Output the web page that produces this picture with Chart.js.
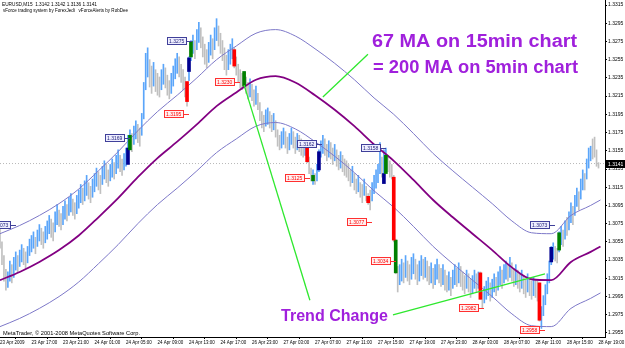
<!DOCTYPE html>
<html>
<head>
<meta charset="utf-8">
<script src="https://cdn.jsdelivr.net/npm/chart.js@4.4.1/dist/chart.umd.min.js"></script>
<style>
  html, body { margin: 0; padding: 0; background: #fff; }
  #wrap { width: 625px; height: 348px; }
</style>
</head>
<body>
<div id="wrap"><canvas id="chart" width="625" height="348"></canvas></div>
<script>
// EURUSD M15 bars, one per 15 minutes
const barHigh = [
  1.3070,1.3055,1.3040,1.3025,1.3022,1.3034,1.3030,1.3038,
  1.3044,1.3040,1.3046,1.3052,1.3048,1.3044,1.3050,1.3058,
  1.3062,1.3066,1.3060,1.3068,1.3074,1.3070,1.3066,1.3072,
  1.3078,1.3084,1.3080,1.3076,1.3088,1.3096,1.3090,1.3086,
  1.3094,1.3100,1.3096,1.3104,1.3108,1.3102,1.3098,1.3106,
  1.3112,1.3118,1.3114,1.3122,1.3128,1.3120,1.3116,1.3124,
  1.3130,1.3136,1.3132,1.3128,1.3138,1.3144,1.3140,1.3134,
  1.3140,1.3146,1.3142,1.3150,1.3156,1.3150,1.3146,1.3152,
  1.3158,1.3172,1.3178,1.3174,1.3182,1.3188,1.3184,1.3180,
  1.3196,1.3230,1.3262,1.3268,1.3255,1.3248,1.3252,1.3244,
  1.3240,1.3236,1.3244,1.3250,1.3246,1.3238,1.3232,1.3240,
  1.3248,1.3256,1.3262,1.3258,1.3250,1.3244,1.3236,1.3230,
  1.3258,1.3276,1.3282,1.3276,1.3288,1.3296,1.3290,1.3280,
  1.3272,1.3266,1.3274,1.3282,1.3278,1.3290,1.3300,1.3292,
  1.3284,1.3276,1.3268,1.3260,1.3266,1.3272,1.3278,1.3268,
  1.3258,1.3250,1.3244,1.3240,1.3242,1.3236,1.3230,1.3234,
  1.3228,1.3222,1.3226,1.3218,1.3208,1.3198,1.3194,1.3200,
  1.3202,1.3198,1.3194,1.3196,1.3188,1.3178,1.3172,1.3176,
  1.3180,1.3176,1.3170,1.3174,1.3180,1.3176,1.3170,1.3174,
  1.3172,1.3168,1.3164,1.3166,1.3162,1.3148,1.3136,1.3134,
  1.3130,1.3140,1.3156,1.3166,1.3172,1.3168,1.3162,1.3166,
  1.3164,1.3158,1.3162,1.3156,1.3150,1.3154,1.3150,1.3146,
  1.3144,1.3140,1.3134,1.3138,1.3130,1.3124,1.3128,1.3120,
  1.3118,1.3124,1.3116,1.3108,1.3112,1.3120,1.3128,1.3134,
  1.3140,1.3164,1.3148,1.3156,1.3158,1.3150,1.3144,1.3140,
  1.3128,1.3058,1.3028,1.3030,1.3036,1.3032,1.3040,1.3034,
  1.3030,1.3038,1.3042,1.3036,1.3030,1.3034,1.3040,1.3036,
  1.3038,1.3034,1.3028,1.3032,1.3026,1.3030,1.3036,1.3030,
  1.3026,1.3030,1.3024,1.3018,1.3022,1.3016,1.3024,1.3030,
  1.3026,1.3032,1.3028,1.3022,1.3018,1.3024,1.3020,1.3014,
  1.3018,1.3024,1.3020,1.3022,1.3022,1.3000,1.3006,1.3012,
  1.3016,1.3010,1.3014,1.3020,1.3016,1.3022,1.3028,1.3024,
  1.3030,1.3034,1.3030,1.3038,1.3032,1.3026,1.3030,1.3024,
  1.3020,1.3024,1.3018,1.3014,1.3020,1.3016,1.3012,1.3016,
  1.3014,1.3012,1.3010,1.2984,1.2996,1.3008,1.3020,1.3034,
  1.3050,1.3054,1.3050,1.3048,1.3066,1.3072,1.3068,1.3078,
  1.3082,1.3088,1.3098,1.3094,1.3106,1.3114,1.3110,1.3124,
  1.3134,1.3130,1.3146,1.3158,1.3160,1.3168,1.3170,1.3156,1.3142
];
const barLow = [
  1.3048,1.3030,1.3012,1.3002,1.3005,1.3012,1.3010,1.3016,
  1.3024,1.3022,1.3028,1.3033,1.3030,1.3026,1.3032,1.3040,
  1.3044,1.3048,1.3042,1.3050,1.3056,1.3052,1.3048,1.3054,
  1.3058,1.3064,1.3060,1.3056,1.3066,1.3074,1.3072,1.3068,
  1.3074,1.3080,1.3078,1.3084,1.3088,1.3084,1.3080,1.3086,
  1.3092,1.3098,1.3096,1.3100,1.3106,1.3102,1.3098,1.3104,
  1.3110,1.3116,1.3112,1.3108,1.3118,1.3124,1.3120,1.3116,
  1.3122,1.3126,1.3124,1.3130,1.3136,1.3132,1.3128,1.3134,
  1.3138,1.3142,1.3158,1.3154,1.3162,1.3168,1.3164,1.3160,
  1.3172,1.3190,1.3222,1.3236,1.3225,1.3218,1.3226,1.3220,
  1.3216,1.3214,1.3222,1.3228,1.3224,1.3216,1.3212,1.3218,
  1.3226,1.3234,1.3240,1.3236,1.3230,1.3222,1.3214,1.3204,
  1.3232,1.3254,1.3262,1.3256,1.3266,1.3274,1.3268,1.3258,
  1.3250,1.3246,1.3252,1.3260,1.3256,1.3266,1.3276,1.3270,
  1.3262,1.3254,1.3244,1.3238,1.3244,1.3250,1.3256,1.3246,
  1.3238,1.3230,1.3224,1.3222,1.3224,1.3218,1.3212,1.3214,
  1.3210,1.3204,1.3206,1.3200,1.3188,1.3180,1.3176,1.3182,
  1.3184,1.3180,1.3176,1.3178,1.3170,1.3160,1.3156,1.3158,
  1.3162,1.3158,1.3152,1.3156,1.3162,1.3158,1.3152,1.3156,
  1.3154,1.3150,1.3148,1.3150,1.3142,1.3130,1.3122,1.3118,
  1.3118,1.3122,1.3132,1.3148,1.3152,1.3150,1.3144,1.3148,
  1.3146,1.3140,1.3144,1.3138,1.3134,1.3136,1.3132,1.3128,
  1.3126,1.3122,1.3116,1.3120,1.3112,1.3108,1.3110,1.3104,
  1.3098,1.3106,1.3100,1.3096,1.3090,1.3100,1.3108,1.3114,
  1.3120,1.3130,1.3126,1.3120,1.3138,1.3132,1.3126,1.3124,
  1.3055,1.3020,1.3000,1.3008,1.3012,1.3010,1.3016,1.3012,
  1.3008,1.3014,1.3020,1.3014,1.3008,1.3012,1.3018,1.3014,
  1.3016,1.3012,1.3008,1.3010,1.3004,1.3008,1.3014,1.3010,
  1.3006,1.3008,1.3002,1.3000,1.3002,1.2996,1.3004,1.3008,
  1.3006,1.3010,1.3006,1.3002,1.2998,1.3004,1.3000,1.2994,
  1.2998,1.3004,1.3000,1.3004,1.2992,1.2982,1.2988,1.2992,
  1.2996,1.2990,1.2994,1.3000,1.2996,1.3002,1.3008,1.3004,
  1.3010,1.3014,1.3012,1.3016,1.3012,1.3006,1.3008,1.3004,
  1.3000,1.3004,1.2998,1.2994,1.3000,1.2996,1.2992,1.2996,
  1.2994,1.2990,1.2968,1.2960,1.2974,1.2986,1.2998,1.3010,
  1.3030,1.3036,1.3034,1.3032,1.3044,1.3052,1.3050,1.3058,
  1.3062,1.3068,1.3076,1.3074,1.3084,1.3094,1.3090,1.3102,
  1.3112,1.3112,1.3124,1.3136,1.3144,1.3146,1.3148,1.3138,1.3136
];
// U = bull bar, D = bear bar
const barDir =
  'DDDDUUDU' + 'UDUUDDUU' + 'UUDUUDDU' + 'UUDDUUDD' + 'UUDUUDDU' + 'UUDUUDDU' +
  'UUDDUUDD' + 'UUDUUDDU' + 'UUUDUUDD' + 'UUUUDDUD' + 'DDUUDDDU' + 'UUUDDDDD' +
  'UUUDUUDD' + 'DDUUDUUD' + 'DDDDUUUD' + 'DDDDUDDU' + 'DDUDDDDU' + 'UDDUDDDU' +
  'UDDUUDDU' + 'DDDUDDDU' + 'DUUUUDDU' + 'DDUDDUDD' + 'DDDUDDUD' + 'DUDDDUUU' +
  'UUDUUDDD' + 'DDDUUDUD' + 'DUUDDUUD' + 'UDDUDUUD' + 'DUDDUDUU' + 'DUDDDUDD' +
  'UUDUDDUU' + 'UDUUDUUD' + 'UUDUDDUD' + 'DUDDUDDU' + 'DDDUUUUU' + 'UUDDUUDU' +
  'DUUDUUDU' + 'UDUUUDDDD';

// 67 period MA and its envelope, sampled every 10 bars
const maIdx = [0,10,20,30,40,50,60,70,80,90,100,110,120,130,140,150,160,170,180,190,200,210,220,230,240,250,260,270,280,290,300,305];
const maVals = [1.3013,1.3022,1.3033,1.3046,1.3062,1.3082,1.3103,1.3126,1.3147,1.3165,1.3184,1.3204,1.3219,1.3233,1.3237,1.3230,
  1.3216,1.3200,1.3182,1.3162,1.3144,1.3123,1.3101,1.3082,1.3064,1.3046,1.3027,1.3014,1.3013,1.3033,1.3044,1.3050];
const envUpper = [1.3064,1.3073,1.3084,1.3097,1.3113,1.3133,1.3154,1.3177,1.3198,1.3216,1.3235,1.3255,1.3270,1.3284,1.3288,1.3281,
  1.3267,1.3251,1.3233,1.3213,1.3195,1.3174,1.3152,1.3133,1.3115,1.3097,1.3078,1.3065,1.3064,1.3084,1.3095,1.3101];
const envLower = [1.2962,1.2971,1.2982,1.2995,1.3011,1.3031,1.3052,1.3075,1.3096,1.3114,1.3133,1.3153,1.3168,1.3182,1.3186,1.3179,
  1.3165,1.3149,1.3131,1.3111,1.3093,1.3072,1.3050,1.3031,1.3013,1.2995,1.2976,1.2963,1.2962,1.2982,1.2993,1.2999];

// vForce signal bars: r = red, g = green, b = navy
const sigIdx  = [65,66,95,96,97,119,124,156,159,162,187,195,196,200,201,244,274,280,284];
const sigLow  = [1.3140,1.3156,1.3209,1.3242,1.3258,1.3248,1.3226,1.3143,1.3122,1.3134,1.3098,1.3119,1.3130,1.3057,1.3021,1.2992,1.2969,1.3033,1.3046];
const sigHigh = [1.3158,1.3172,1.3231,1.3257,1.3275,1.3266,1.3242,1.3161,1.3128,1.3154,1.3105,1.3130,1.3150,1.3126,1.3057,1.3021,1.3010,1.3049,1.3065];
const sigKind = ['b','g','r','b','g','r','g','r','g','b','r','b','g','r','g','r','r','b','g'];

// price tags: text, bar the leader points at, price, kind
const tagText  = ['1.3073','1.3169','1.3195','1.3275','1.3230','1.3162','1.3125','1.3158','1.3077','1.3034','1.2982','1.2958','1.3073'];
const tagIdx   = [8,66,96,97.5,122,163.5,157.5,196,189,201,246,277,282];
const tagPrice = [1.3073,1.3169,1.3195,1.3275,1.3230,1.3162,1.3125,1.3158,1.3077,1.3034,1.2982,1.2958,1.3073];
const tagKind  = ['b','b','r','b','r','b','r','b','r','r','r','r','b'];

// hand drawn green lines (bar index, price)
const lineToTrend = [{ x: 124, y: 1.3227 }, { x: 157.4, y: 1.2991 }];
const lineToNote = [{ x: 186.9, y: 1.3261 }, { x: 164, y: 1.3214 }];
const lineCross = [{ x: 199.6, y: 1.2975 }, { x: 276.8, y: 1.3020 }];

const bidPrice = 1.3141;
const yTicks = [1.2955,1.2975,1.2995,1.3015,1.3035,1.3055,1.3075,1.3095,1.3115,1.3135,1.3155,1.3175,1.3195,1.3215,1.3235,1.3255,1.3275,1.3295,1.3315];
const xTickIdx = [0,16,32,48,64,80,96,112,128,144,160,176,192,208,224,240,256,272,288,304];
const xTickLabels = ['23 Apr 2009','23 Apr 17:00','23 Apr 21:00','24 Apr 01:00','24 Apr 05:00','24 Apr 09:00','24 Apr 13:00',
  '24 Apr 17:00','26 Apr 23:00','27 Apr 03:00','27 Apr 07:00','27 Apr 11:00','27 Apr 15:00','27 Apr 19:00','27 Apr 23:00',
  '28 Apr 03:00','28 Apr 07:00','28 Apr 11:00','28 Apr 15:00','28 Apr 19:00'];

const FONT = '"Liberation Sans", Arial, sans-serif';
const sigColors = { r: '#ff0000', g: '#008000', b: '#000090' };
const tagStyle = {
  r: { fill: '#fff0f0', stroke: '#ff3030', text: '#ff0000' },
  b: { fill: '#eeeeff', stroke: '#40409a', text: '#20207a' }
};

const upBars = [], downBars = [];
barHigh.forEach((h, i) => {
  const p = { x: i, y: [barLow[i], h] };
  (barDir[i] === 'U' ? upBars : downBars).push(p);
});

function sigData(kind) {
  return sigIdx.map((x, i) => ({ x, y: [sigLow[i], sigHigh[i]], k: sigKind[i] }))
    .filter(p => p.k === kind);
}

function curve(vals) {
  return maIdx.map((x, i) => ({ x, y: vals[i] }));
}

// squeeze or stretch a text line so it covers the same width as in the picture
function fitText(ctx, text, x, y, width) {
  const w = ctx.measureText(text).width;
  ctx.save();
  ctx.translate(x, y);
  ctx.scale(width / w, 1);
  ctx.fillText(text, 0, 0);
  ctx.restore();
}

const barStyle = { type: 'bar', barThickness: 1, grouped: false, borderWidth: 0 };
const sigStyle = { type: 'bar', barThickness: 3, grouped: false, borderWidth: 0, order: 2 };
const greenLine = { type: 'line', borderColor: '#2ee82e', borderWidth: 1.3, pointRadius: 0, order: 1 };

const overlay = {
  id: 'overlay',
  afterDatasetsDraw(chart) {
    const { ctx } = chart;
    const x = chart.scales.x, y = chart.scales.y;
    ctx.save();
    ctx.font = '5px ' + FONT;
    ctx.textBaseline = 'middle';
    ctx.lineWidth = 1;
    tagText.forEach((t, i) => {
      const st = tagStyle[tagKind[i]];
      const px = Math.round(x.getPixelForValue(tagIdx[i]));
      const py = Math.round(y.getPixelForValue(tagPrice[i]));
      const w = Math.ceil(ctx.measureText(t).width) + 4;
      const h = 8;
      const bx = px - 5 - w;
      ctx.fillStyle = st.fill;
      ctx.fillRect(bx, py - h / 2, w, h);
      ctx.strokeStyle = st.stroke;
      ctx.strokeRect(bx + 0.5, py - h / 2 + 0.5, w - 1, h - 1);
      ctx.beginPath();
      ctx.moveTo(bx + w, py + 0.5);
      ctx.lineTo(px, py + 0.5);
      ctx.stroke();
      ctx.fillStyle = st.text;
      ctx.fillText(t, bx + 2, py + 0.5);
    });
    ctx.restore();
  },
  afterDraw(chart) {
    const { ctx } = chart;
    const y = chart.scales.y;
    ctx.save();
    ctx.textBaseline = 'middle';
    ctx.fillStyle = '#000';
    ctx.font = '5px ' + FONT;
    fitText(ctx, 'EURUSD,M15  1.3142 1.3142 1.3136 1.3141', 2, 5, 95);
    fitText(ctx, 'vForce trading system by ForexJedi   vForceAlerts by RobDee', 3, 11, 125);
    fitText(ctx, 'MetaTrader, \u00a9 2001-2008 MetaQuotes Software Corp.', 3, 334, 137);

    // bid price tag on the axis
    const by = Math.round(y.getPixelForValue(bidPrice));
    ctx.fillStyle = '#000';
    ctx.fillRect(606, by - 4, 19, 8);
    ctx.fillStyle = '#fff';
    ctx.fillText(bidPrice.toFixed(4), 608, by + 0.5);

    ctx.fillStyle = 'rgb(160,32,220)';
    ctx.font = 'bold 18px ' + FONT;
    fitText(ctx, '67 MA on 15min chart', 372, 42, 205);
    fitText(ctx, '= 200 MA on 5min chart', 373, 68, 205);
    ctx.font = 'bold 17px ' + FONT;
    fitText(ctx, 'Trend Change', 281, 316, 107);
    ctx.restore();
  }
};

new Chart(document.getElementById('chart'), {
  type: 'bar',
  data: {
    datasets: [
      { type: 'line', data: [{ x: 0, y: bidPrice }, { x: 307.3, y: bidPrice }], borderColor: '#b8b8b8',
        borderWidth: 1, borderDash: [1, 2], pointRadius: 0, order: 7 },
      { ...barStyle, data: upBars, backgroundColor: 'rgb(90,165,250)', order: 6 },
      { ...barStyle, data: downBars, backgroundColor: 'rgb(192,192,192)', order: 6 },
      { type: 'line', data: curve(envUpper), borderColor: 'rgb(125,120,200)', borderWidth: 1, pointRadius: 0,
        cubicInterpolationMode: 'monotone', order: 4 },
      { type: 'line', data: curve(envLower), borderColor: 'rgb(125,120,200)', borderWidth: 1, pointRadius: 0,
        cubicInterpolationMode: 'monotone', order: 4 },
      { type: 'line', data: curve(maVals), borderColor: 'rgb(130,0,130)', borderWidth: 1.8, pointRadius: 0,
        cubicInterpolationMode: 'monotone', order: 3 },
      { ...sigStyle, data: sigData('r'), backgroundColor: sigColors.r },
      { ...sigStyle, data: sigData('g'), backgroundColor: sigColors.g },
      { ...sigStyle, data: sigData('b'), backgroundColor: sigColors.b },
      { ...greenLine, data: lineToTrend },
      { ...greenLine, data: lineToNote },
      { ...greenLine, data: lineCross }
    ]
  },
  options: {
    responsive: false,
    animation: false,
    devicePixelRatio: 1,
    layout: { padding: 0 },
    plugins: { legend: { display: false }, tooltip: { enabled: false } },
    scales: {
      x: {
        type: 'linear', min: 0, max: 307.3, offset: false,
        afterBuildTicks: s => { s.ticks = xTickIdx.map(v => ({ value: v })); },
        afterFit: s => { s.height = 11; s.paddingLeft = 0; s.paddingRight = 0; },
        ticks: {
          autoSkip: false, maxRotation: 0, align: 'start', padding: 1, color: '#000',
          font: { family: FONT, size: 4.5 },
          callback: (v, i) => xTickLabels[i]
        },
        grid: { drawOnChartArea: false, tickLength: 2, color: '#000' },
        border: { color: '#000', width: 1 }
      },
      y: {
        type: 'linear', position: 'right', min: 1.29506, max: 1.33205,
        afterBuildTicks: s => { s.ticks = yTicks.map(v => ({ value: v })); },
        afterFit: s => { s.width = 20; s.paddingTop = 0; s.paddingBottom = 0; },
        ticks: {
          autoSkip: false, padding: 1, color: '#000',
          font: { family: FONT, size: 5 },
          callback: v => v.toFixed(4)
        },
        grid: { drawOnChartArea: false, tickLength: 2, color: '#000' },
        border: { color: '#000', width: 1 }
      }
    }
  },
  plugins: [overlay]
});
</script>
</body>
</html>
